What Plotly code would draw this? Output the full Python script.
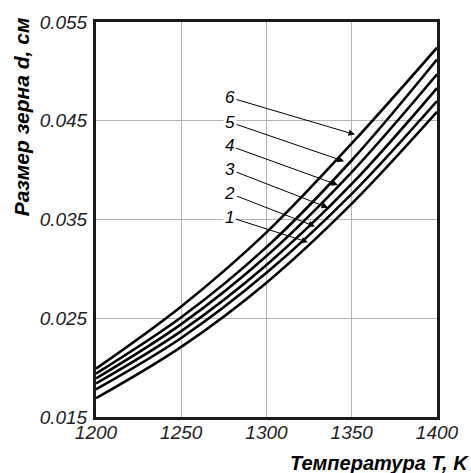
import plotly.graph_objects as go

# Data
temperature = [1200, 1250, 1300, 1350, 1400]
curve_1 = [0.0169, 0.0221, 0.0286, 0.0366, 0.0459]
curve_2 = [0.0178, 0.0230, 0.0296, 0.0376, 0.0470]
curve_3 = [0.0184, 0.0237, 0.0304, 0.0386, 0.0483]
curve_4 = [0.0189, 0.0244, 0.0313, 0.0398, 0.0497]
curve_5 = [0.0194, 0.0251, 0.0322, 0.0410, 0.0512]
curve_6 = [0.0199, 0.0262, 0.0337, 0.0427, 0.0524]
curve_names = ["1", "2", "3", "4", "5", "6"]
curves = [curve_1, curve_2, curve_3, curve_4, curve_5, curve_6]

x_ticks = [1200, 1250, 1300, 1350, 1400]
y_ticks = [0.015, 0.025, 0.035, 0.045, 0.055]
y_tick_text = ["0.015", "0.025", "0.035", "0.045", "0.055"]

# label arrow tips (data coords) and text offsets (px)
arrow_tips = [(1324.3, 0.0327), (1328.4, 0.0343), (1336.1, 0.0362),
              (1341.9, 0.0385), (1345.5, 0.0409), (1351.9, 0.0436)]
arrow_offsets = [(-78, -25), (-85, -33), (-98, -38), (-108, -39), (-114, -39), (-125, -37)]

FONT = "Arial, Liberation Sans, sans-serif"

fig = go.Figure()
for name, vals in zip(curve_names, curves):
    fig.add_trace(go.Scatter(
        x=temperature, y=vals, mode="lines", name=name,
        line=dict(color="black", width=2.6, shape="spline"),
        showlegend=False, hoverinfo="skip"))

annotations = []
for name, (tx, ty), (ax, ay) in zip(curve_names, arrow_tips, arrow_offsets):
    annotations.append(dict(
        x=tx, y=ty, xref="x", yref="y", text=f"<i>{name}</i>",
        showarrow=True, ax=ax, ay=ay, axref="pixel", ayref="pixel",
        arrowhead=2, arrowsize=1.3, arrowwidth=1, arrowcolor="black",
        font=dict(family=FONT, size=17, color="black"),
        bgcolor="white", borderpad=1))

annotations.append(dict(
    text="<b><i>Размер зерна d, см</i></b>", textangle=-90,
    xref="paper", yref="paper", x=-0.22, y=1.018,
    xanchor="center", yanchor="top", showarrow=False,
    font=dict(family=FONT, size=21, color="black")))
annotations.append(dict(
    text="<b><i>Температура T, K</i></b>",
    xref="paper", yref="paper", x=1.1, y=-0.116,
    xanchor="right", yanchor="middle", showarrow=False,
    font=dict(family=FONT, size=20, color="black")))

fig.update_layout(
    width=471, height=473,
    margin=dict(l=96, r=34, t=20, b=56),
    plot_bgcolor="white", paper_bgcolor="white",
    annotations=annotations,
    font=dict(family=FONT, color="black"),
)
fig.update_xaxes(
    range=[1200, 1400], tickvals=x_ticks,
    ticktext=[f"<i>{t}</i>" for t in x_ticks],
    tickfont=dict(family=FONT, size=19, color="#222"),
    showgrid=True, gridcolor="#b4b4b4", gridwidth=1,
    showline=True, linecolor="#1a1a1a", linewidth=3, mirror=True,
    ticks="", zeroline=False, ticklabelstandoff=-4)
fig.update_yaxes(
    range=[0.015, 0.055], tickvals=y_ticks, ticktext=[f"<i>{t}</i>" for t in y_tick_text],
    tickfont=dict(family=FONT, size=19, color="#222"),
    showgrid=True, gridcolor="#b4b4b4", gridwidth=1,
    showline=True, linecolor="#1a1a1a", linewidth=3, mirror=True,
    ticks="", zeroline=False, ticklabelstandoff=2)

fig.write_html("out.html", config={"displayModeBar": False},
               post_script="document.body.style.margin='0';document.body.style.overflow='hidden';")
